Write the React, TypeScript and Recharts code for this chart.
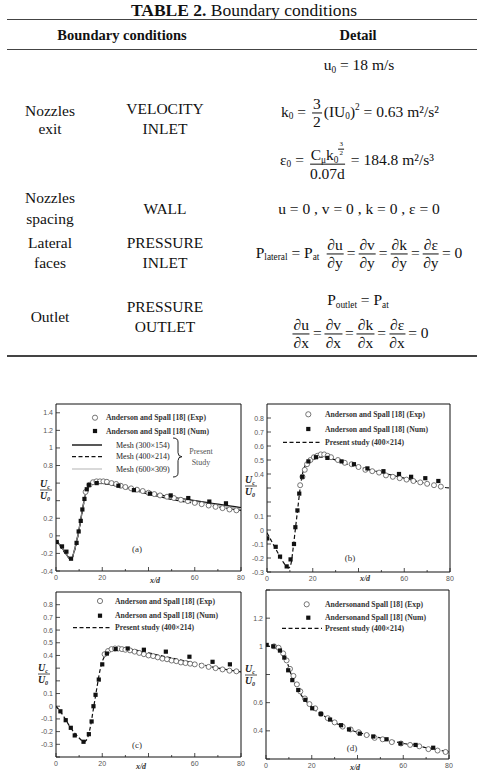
import React from 'react';
import { ComposedChart, Line, Scatter, XAxis, YAxis, ReferenceArea, Legend } from 'recharts';

// ---- (a) centreline velocity, mesh independence
const aLineX = [0, 1, 2, 3, 4, 5, 6, 6.5, 7, 8, 9, 10, 11, 12, 13, 14, 15, 16, 18, 20, 25, 30, 35, 40, 45, 50, 55, 60, 65, 70, 75, 80];
const aMesh300 = [-0.05, -0.08, -0.12, -0.15, -0.19, -0.23, -0.26, -0.265, -0.25, -0.16, -0.05, 0.08, 0.23, 0.38, 0.5, 0.56, 0.59, 0.6, 0.605, 0.6, 0.58, 0.55, 0.52, 0.49, 0.465, 0.44, 0.42, 0.4, 0.38, 0.36, 0.34, 0.32];
const aMesh400 = [-0.05, -0.08, -0.12, -0.16, -0.2, -0.23, -0.26, -0.265, -0.25, -0.17, -0.06, 0.07, 0.22, 0.37, 0.49, 0.56, 0.59, 0.6, 0.6, 0.595, 0.575, 0.54, 0.51, 0.475, 0.445, 0.415, 0.39, 0.37, 0.35, 0.33, 0.31, 0.29];
const aMesh600 = [-0.05, -0.08, -0.12, -0.15, -0.19, -0.23, -0.26, -0.265, -0.25, -0.16, -0.05, 0.08, 0.23, 0.38, 0.5, 0.56, 0.59, 0.6, 0.6, 0.6, 0.58, 0.545, 0.515, 0.485, 0.455, 0.43, 0.41, 0.39, 0.37, 0.35, 0.33, 0.31];
const aNumX = [0.3, 2.6, 4.5, 6.5, 8.9, 9.8, 10.7, 11.4, 12.3, 13.3, 14.2, 17.6, 27, 33.7, 40.6, 49.6, 57.2, 66.3, 73.5];
const aNumY = [-0.07, -0.12, -0.18, -0.26, -0.08, 0.05, 0.17, 0.3, 0.42, 0.53, 0.58, 0.6, 0.57, 0.52, 0.48, 0.46, 0.43, 0.39, 0.37];
const aExpX = [12.8, 14.5, 16, 17.5, 19, 20.5, 22, 24, 26, 28, 30, 32.5, 35, 37.5, 40, 42.5, 45, 48, 51, 54, 57, 60, 63, 66, 69, 72, 75, 78];
const aExpY = [0.5, 0.58, 0.61, 0.62, 0.62, 0.62, 0.615, 0.6, 0.59, 0.57, 0.555, 0.54, 0.525, 0.51, 0.49, 0.475, 0.46, 0.445, 0.43, 0.41, 0.395, 0.375, 0.36, 0.345, 0.33, 0.315, 0.3, 0.29];

// ---- (b)
const bLineX = [0, 2, 4, 6, 8, 9.5, 10.5, 11.5, 12.5, 13.5, 14.5, 15.5, 17, 19, 22, 25, 30, 35, 40, 45, 50, 55, 60, 65, 70, 75, 80];
const bPresent = [-0.02, -0.08, -0.14, -0.2, -0.25, -0.27, -0.24, -0.12, 0.02, 0.16, 0.3, 0.4, 0.47, 0.5, 0.52, 0.52, 0.5, 0.47, 0.45, 0.43, 0.41, 0.39, 0.37, 0.35, 0.33, 0.31, 0.3];
const bNumX = [0.1, 3.8, 5.7, 8.6, 10.3, 11.8, 12.4, 13.3, 14.1, 15.4, 18.1, 21.4, 26.4, 32.6, 38, 43.9, 50.9, 57.7, 63, 69.2, 74.9];
const bNumY = [-0.06, -0.12, -0.19, -0.26, -0.21, -0.1, 0.02, 0.14, 0.26, 0.38, 0.49, 0.52, 0.515, 0.49, 0.47, 0.44, 0.42, 0.4, 0.38, 0.37, 0.35];
const bExpX = [14.5, 15.5, 16.5, 17.5, 19, 20.5, 22, 23.5, 25, 26.5, 28, 31, 34, 37, 40, 43, 46, 49, 52, 55, 58, 61, 64, 67, 70, 73, 76];
const bExpY = [0.32, 0.38, 0.43, 0.47, 0.5, 0.52, 0.53, 0.54, 0.54, 0.53, 0.52, 0.5, 0.48, 0.47, 0.45, 0.43, 0.42, 0.41, 0.39, 0.38, 0.37, 0.36, 0.35, 0.34, 0.33, 0.32, 0.31];

// ---- (c)
const cLineX = [0, 2, 4, 6, 8, 10, 12, 13, 14, 15, 16, 17, 18, 19, 20, 22, 24, 26, 28, 30, 35, 40, 45, 50, 55, 60, 65, 70, 75, 80];
const cPresent = [0, -0.045, -0.1, -0.16, -0.21, -0.25, -0.28, -0.27, -0.23, -0.15, -0.04, 0.07, 0.18, 0.28, 0.35, 0.42, 0.45, 0.46, 0.46, 0.455, 0.44, 0.42, 0.4, 0.38, 0.36, 0.34, 0.32, 0.3, 0.285, 0.27];
const cNumX = [1.9, 4.2, 6.4, 8.1, 11.9, 14.2, 15.4, 16.2, 17.1, 18.5, 20, 22, 25.8, 31, 38, 47.5, 57.7, 67.7, 75.2];
const cNumY = [-0.04, -0.11, -0.17, -0.23, -0.28, -0.22, -0.12, 0, 0.09, 0.21, 0.33, 0.415, 0.45, 0.455, 0.445, 0.43, 0.39, 0.35, 0.33];
const cExpX = [21, 22.5, 24, 25.5, 27, 28.5, 30, 32, 34, 36, 38, 40, 42, 44, 46, 48, 50, 52, 54, 56, 58, 60, 63, 66, 69, 72, 75, 78];
const cExpY = [0.41, 0.435, 0.45, 0.455, 0.455, 0.45, 0.445, 0.44, 0.43, 0.42, 0.41, 0.4, 0.395, 0.385, 0.375, 0.37, 0.36, 0.355, 0.345, 0.34, 0.335, 0.33, 0.32, 0.31, 0.3, 0.29, 0.28, 0.275];

// ---- (d)
const dLineX = [0, 2, 4, 6, 7, 8, 9, 10, 11, 12, 13, 14, 16, 18, 20, 22, 25, 30, 35, 40, 45, 50, 55, 60, 65, 70, 75, 80];
const dPresent = [1.0, 1.0, 1.0, 0.99, 0.97, 0.94, 0.9, 0.85, 0.8, 0.76, 0.72, 0.69, 0.64, 0.6, 0.57, 0.54, 0.51, 0.46, 0.42, 0.39, 0.37, 0.35, 0.33, 0.31, 0.3, 0.28, 0.265, 0.25];
const dNumX = [0.3, 3.2, 6.1, 8, 9.7, 11.5, 14.1, 17.2, 20.2, 24, 28, 32.8, 36.3, 41, 46.9, 52.7, 58.8, 65.4, 73.1];
const dNumY = [1.01, 1.0, 0.97, 0.92, 0.83, 0.76, 0.69, 0.62, 0.56, 0.52, 0.48, 0.44, 0.41, 0.38, 0.36, 0.34, 0.31, 0.3, 0.28];
const dExpX = [3.5, 5.5, 7.5, 9, 10.5, 12, 13.5, 15, 17, 19, 21.5, 24, 27, 30, 33.5, 37, 40.5, 44, 47.5, 51, 55, 59, 63, 67, 71, 75, 78.5];
const dExpY = [1.0, 0.99, 0.95, 0.9, 0.84, 0.79, 0.73, 0.68, 0.63, 0.59, 0.56, 0.52, 0.49, 0.46, 0.43, 0.41, 0.39, 0.37, 0.35, 0.34, 0.32, 0.31, 0.3, 0.29, 0.27, 0.26, 0.25];

// ---- ticks
const xTicks = [0, 10, 20, 30, 40, 50, 60, 70, 80];
const aYTicks = [-0.4, -0.2, 0, 0.2, 0.4, 0.6, 0.8, 1, 1.2, 1.4];
const bYTicks = [-0.3, -0.2, -0.1, 0, 0.1, 0.2, 0.3, 0.4, 0.5, 0.6, 0.7, 0.8];
const cYTicks = [-0.4, -0.3, -0.2, -0.1, 0, 0.1, 0.2, 0.3, 0.4, 0.5, 0.6, 0.7, 0.8];
const dYTicks = [0.2, 0.4, 0.6, 0.8, 1, 1.2, 1.4];

const pts = (xs: number[], ys: number[]) => xs.map((x, i) => ({ x, y: ys[i] }));

const SERIF = '"Liberation Serif", "Times New Roman", serif';
const SANS = '"Liberation Sans", Arial, sans-serif';

const OpenCircle = (props: any) => (
  <circle cx={props.cx} cy={props.cy} r={2.5} fill="#fff" stroke="#555" strokeWidth={0.8} />
);
const BlackSquare = (props: any) => (
  <rect x={props.cx - 2.1} y={props.cy - 2.1} width={4.2} height={4.2} fill="#111" />
);

interface Box { l: number; t: number; r: number; b: number }
interface SeriesLine { data: { x: number; y: number }[]; stroke: string; width: number; dash?: string; name: string }
interface PanelProps {
  left: number; top: number; w: number; h: number;
  box: Box;
  yDomain: [number, number];
  yTicks: number[];
  yHidden: number[];
  lines: SeriesLine[];
  exp: { x: number; y: number }[];
  num: { x: number; y: number }[];
  overlay: React.ReactNode;
}

function Panel(p: PanelProps) {
  const xTick = (props: any) => {
    const { x, payload } = props;
    const v = payload.value as number;
    const major = v % 20 === 0;
    return (
      <g>
        <line x1={x} x2={x} y1={p.box.b} y2={p.box.b - (major ? 4 : 2)} stroke="#222" strokeWidth={0.8} />
        {major && v !== 40 && (
          <text x={x} y={p.box.b + 9} textAnchor="middle" fontSize={7} fontFamily={SANS} fill="#555">{v}</text>
        )}
      </g>
    );
  };
  const yTick = (props: any) => {
    const { y, payload } = props;
    const v = payload.value as number;
    return (
      <g>
        <line x1={p.box.l} x2={p.box.l + 4} y1={y} y2={y} stroke="#222" strokeWidth={0.8} />
        {!p.yHidden.includes(v) && (
          <text x={p.box.l - 3} y={y + 2.5} textAnchor="end" fontSize={7} fontFamily={SANS} fill="#555">{String(v)}</text>
        )}
      </g>
    );
  };
  return (
    <div style={{ position: 'absolute', left: p.left, top: p.top }}>
      <ComposedChart
        width={p.w}
        height={p.h}
        margin={{ top: p.box.t, right: p.w - p.box.r, left: p.box.l - 20, bottom: p.h - p.box.b - 10 }}
      >
        <XAxis type="number" dataKey="x" domain={[0, 80]} ticks={xTicks} tick={xTick} tickLine={false} axisLine={false} height={10} allowDataOverflow interval={0} />
        <YAxis type="number" domain={p.yDomain} ticks={p.yTicks} tick={yTick} tickLine={false} axisLine={false} width={20} allowDataOverflow interval={0} />
        <ReferenceArea x1={0} x2={80} y1={p.yDomain[0]} y2={p.yDomain[1]} fill="none" fillOpacity={0} stroke="#111" strokeWidth={1} />
        {p.lines.map((l) => (
          <Line
            key={l.name}
            data={l.data}
            dataKey="y"
            type="monotone"
            stroke={l.stroke}
            strokeWidth={l.width}
            strokeDasharray={l.dash}
            dot={false}
            activeDot={false}
            isAnimationActive={false}
          />
        ))}
        <Scatter data={p.exp} dataKey="y" shape={OpenCircle} isAnimationActive={false} />
        <Scatter data={p.num} dataKey="y" shape={BlackSquare} isAnimationActive={false} />
        <Legend
          layout="horizontal"
          verticalAlign="middle"
          align="center"
          wrapperStyle={{ position: 'absolute', left: 0, top: 0, width: p.w, height: p.h, pointerEvents: 'none' }}
          content={() => (
            <svg width={p.w} height={p.h} style={{ display: 'block' }}>{p.overlay}</svg>
          )}
        />
      </ComposedChart>
    </div>
  );
}

const lg = { fontFamily: SERIF, fontSize: 7.7, fontWeight: 700, fill: '#333' } as const;

const FracLabel = ({ cx, y }: { cx: number; y: number }) => (
  <g fontFamily={SERIF} fontStyle="italic" fontWeight={700} fill="#222">
    <text x={cx - 1} y={y} textAnchor="middle" fontSize={10}>U<tspan fontSize={6} dy={2}>c</tspan></text>
    <line x1={cx - 6} x2={cx + 6} y1={y + 3} y2={y + 3} stroke="#222" strokeWidth={0.8} />
    <text x={cx - 1} y={y + 12} textAnchor="middle" fontSize={10}>U<tspan fontSize={6} dy={2}>0</tspan></text>
  </g>
);

const XdLabel = ({ x, y }: { x: number; y: number }) => (
  <text x={x} y={y} textAnchor="middle" fontFamily={SERIF} fontStyle="italic" fontWeight={700} fontSize={8} fill="#333">x/d</text>
);

const PanelTag = ({ x, y, t }: { x: number; y: number; t: string }) => (
  <text x={x} y={y} textAnchor="middle" fontFamily={SERIF} fontSize={9} fill="#333">{t}</text>
);

const overlayA = (
  <g>
    <circle cx={95} cy={22.7} r={2.6} fill="#fff" stroke="#555" strokeWidth={0.8} />
    <text x={106} y={25.4} {...lg}>Anderson and Spall [18] (Exp)</text>
    <rect x={92.9} y={33.9} width={4.2} height={4.2} fill="#111" />
    <text x={106} y={38.6} {...lg}>Anderson and Spall [18] (Num)</text>
    <line x1={72} x2={102} y1={50} y2={50} stroke="#111" strokeWidth={1.4} />
    <text x={116} y={52.7} {...lg} fontWeight={400} fontSize={8} fill="#222">Mesh (300×154)</text>
    <line x1={72} x2={102} y1={61.7} y2={61.7} stroke="#111" strokeWidth={1.2} strokeDasharray="4 2.5" />
    <text x={116} y={64.4} {...lg} fontWeight={400} fontSize={8} fill="#222">Mesh (400×214)</text>
    <line x1={72} x2={102} y1={74} y2={74} stroke="#aaa" strokeWidth={0.9} />
    <text x={116} y={76.7} {...lg} fontWeight={400} fontSize={8} fill="#222">Mesh (600×309)</text>
    <path d="M173,43 Q178,43 178,47 L178,57.7 Q178,61.7 182,61.7 Q178,61.7 178,65.7 L178,78 Q178,82 173,82" fill="none" stroke="#222" strokeWidth={1} />
    <text x={201} y={59} textAnchor="middle" fontFamily={SERIF} fontSize={8} fill="#555">Present</text>
    <text x={201} y={70} textAnchor="middle" fontFamily={SERIF} fontSize={8} fill="#555">Study</text>
    <PanelTag x={137} y={157} t="(a)" />
    <FracLabel cx={46} y={92} />
    <XdLabel x={155} y={188} />
  </g>
);

const overlayB = (
  <g>
    <circle cx={68.3} cy={19.3} r={2.6} fill="#fff" stroke="#555" strokeWidth={0.8} />
    <text x={85} y={22} {...lg}>Anderson and Spall [18] (Exp)</text>
    <rect x={66.2} y={31.9} width={4.2} height={4.2} fill="#111" />
    <text x={85} y={36.7} {...lg}>Anderson and Spall [18] (Num)</text>
    <line x1={43} x2={82} y1={47.3} y2={47.3} stroke="#111" strokeWidth={1.2} strokeDasharray="4 2.5" />
    <text x={85} y={50} {...lg}>Present study (400×214)</text>
    <PanelTag x={110} y={166} t="(b)" />
    <FracLabel cx={11} y={88} />
    <XdLabel x={125} y={186} />
  </g>
);

const overlayC = (
  <g>
    <circle cx={100} cy={16} r={2.6} fill="#fff" stroke="#555" strokeWidth={0.8} />
    <text x={115} y={18.7} {...lg}>Anderson and Spall [18] (Exp)</text>
    <rect x={97.9} y={28.6} width={4.2} height={4.2} fill="#111" />
    <text x={115} y={33.3} {...lg}>Anderson and Spall [18] (Num)</text>
    <line x1={73} x2={112} y1={42.7} y2={42.7} stroke="#111" strokeWidth={1.2} strokeDasharray="4 2.5" />
    <text x={115} y={45.4} {...lg}>Present study (400×214)</text>
    <PanelTag x={137} y={163} t="(c)" />
    <FracLabel cx={44} y={86} />
    <XdLabel x={141} y={184} />
  </g>
);

const overlayD = (
  <g>
    <circle cx={66.7} cy={19.3} r={2.6} fill="#fff" stroke="#555" strokeWidth={0.8} />
    <text x={85} y={22} {...lg}>Andersonand Spall [18] (Exp)</text>
    <rect x={66.2} y={30.6} width={4.2} height={4.2} fill="#111" />
    <text x={85} y={35.4} {...lg}>Andersonand Spall [18] (Num)</text>
    <line x1={42} x2={82} y1={43.3} y2={43.3} stroke="#111" strokeWidth={1.2} strokeDasharray="4 2.5" />
    <text x={85} y={46} {...lg}>Present study (400×214)</text>
    <PanelTag x={112} y={166} t="(d)" />
    <FracLabel cx={11} y={87} />
    <XdLabel x={115} y={185} />
  </g>
);

// ---- table helpers
const Txt = ({ x, y, children, b, size = 15.5 }: { x: number; y: number; children: React.ReactNode; b?: boolean; size?: number }) => (
  <div
    style={{
      position: 'absolute', left: x, top: y, transform: 'translate(-50%,-50%)',
      whiteSpace: 'nowrap', fontSize: size, fontWeight: b ? 700 : 400, lineHeight: 1,
    }}
  >
    {children}
  </div>
);
const Sub = ({ children }: { children: React.ReactNode }) => (
  <span style={{ fontSize: '0.6em', verticalAlign: '-0.3em', lineHeight: 0 }}>{children}</span>
);
const Sup = ({ children }: { children: React.ReactNode }) => (
  <span style={{ fontSize: '0.6em', verticalAlign: '0.7em', lineHeight: 0 }}>{children}</span>
);
const Frac = ({ n, d, gap = 2 }: { n: React.ReactNode; d: React.ReactNode; gap?: number }) => (
  <span
    style={{
      display: 'inline-flex', flexDirection: 'column', alignItems: 'center',
      verticalAlign: 'middle', margin: `0 ${gap}px`, lineHeight: 1.1,
    }}
  >
    <span style={{ borderBottom: '1px solid #111', padding: '0 1px' }}>{n}</span>
    <span>{d}</span>
  </span>
);
const Rule = ({ y, h = 1.5 }: { y: number; h?: number }) => (
  <div style={{ position: 'absolute', left: 7, top: y, width: 470, height: h, background: '#444' }} />
);
const dd = (a: string, b: string) => <Frac n={<>∂{a}</>} d={<>∂{b}</>} gap={3} />;

function BoundaryTable() {
  return (
    <>
      <Txt x={244} y={11} size={17.5}><b>TABLE 2.</b> Boundary conditions</Txt>
      <Rule y={18.5} />
      <Txt x={122} y={35} b size={14.5}>Boundary conditions</Txt>
      <Txt x={358} y={35} b size={14.5}>Detail</Txt>
      <Rule y={48.5} />

      <Txt x={359} y={65}>u<Sub>0</Sub> = 18 m/s</Txt>
      <Txt x={50} y={111}>Nozzles</Txt>
      <Txt x={50} y={129}>exit</Txt>
      <Txt x={165} y={109}>VELOCITY</Txt>
      <Txt x={165} y={129}>INLET</Txt>
      <Txt x={360} y={113}>
        k<Sub>0</Sub> = <Frac n="3" d="2" />(IU<Sub>0</Sub>)<Sup>2</Sup> = 0.63 m²/s²
      </Txt>
      <Txt x={357} y={161}>
        ε<Sub>0</Sub> ={' '}
        <Frac
          n={<>C<Sub>μ</Sub>k<Sub>0</Sub><span style={{ display: 'inline-block', fontSize: 7, verticalAlign: '1.4em' }}><Frac n="3" d="2" gap={0} /></span></>}
          d="0.07d"
        />
        {' '}= 184.8 m²/s³
      </Txt>

      <Txt x={50} y={198}>Nozzles</Txt>
      <Txt x={50} y={219}>spacing</Txt>
      <Txt x={165} y={209}>WALL</Txt>
      <Txt x={359} y={209}>u = 0 , v = 0 , k = 0 , ε = 0</Txt>

      <Txt x={50} y={243}>Lateral</Txt>
      <Txt x={50} y={263}>faces</Txt>
      <Txt x={165} y={243}>PRESSURE</Txt>
      <Txt x={165} y={263}>INLET</Txt>
      <Txt x={359} y={254}>
        P<Sub>lateral</Sub> = P<Sub>at</Sub>{' '}{dd('u', 'y')}={dd('v', 'y')}={dd('k', 'y')}={dd('ε', 'y')}= 0
      </Txt>

      <Txt x={358} y={300}>P<Sub>outlet</Sub> = P<Sub>at</Sub></Txt>
      <Txt x={50} y={317}>Outlet</Txt>
      <Txt x={165} y={307}>PRESSURE</Txt>
      <Txt x={165} y={327}>OUTLET</Txt>
      <Txt x={359} y={334}>
        {dd('u', 'x')}={dd('v', 'x')}={dd('k', 'x')}={dd('ε', 'x')}= 0
      </Txt>
      <Rule y={354.5} h={2.2} />
    </>
  );
}

export default function App() {
  return (
    <div
      style={{
        position: 'relative', width: 477, height: 771, overflow: 'hidden',
        background: '#fff', fontFamily: SERIF, color: '#111',
      }}
    >
      <style>{'body{margin:0}'}</style>
      <BoundaryTable />
      <Panel
        left={0} top={395} w={250} h={195}
        box={{ l: 56, t: 9, r: 241, b: 176 }}
        yDomain={[-0.4, 1.5]} yTicks={aYTicks} yHidden={[0.4, 0.6]}
        lines={[
          { name: 'm300', data: pts(aLineX, aMesh300), stroke: '#111', width: 1.4 },
          { name: 'm400', data: pts(aLineX, aMesh400), stroke: '#111', width: 1.2, dash: '4 2.5' },
          { name: 'm600', data: pts(aLineX, aMesh600), stroke: '#aaa', width: 0.9 },
        ]}
        exp={pts(aExpX, aExpY)}
        num={pts(aNumX, aNumY)}
        overlay={overlayA}
      />
      <Panel
        left={240} top={395} w={237} h={195}
        box={{ l: 27, t: 9, r: 210, b: 177 }}
        yDomain={[-0.3, 0.9]} yTicks={bYTicks} yHidden={[0.2, 0.3]}
        lines={[{ name: 'present', data: pts(bLineX, bPresent), stroke: '#111', width: 1.2, dash: '4 2.5' }]}
        exp={pts(bExpX, bExpY)}
        num={pts(bNumX, bNumY)}
        overlay={overlayB}
      />
      <Panel
        left={0} top={585} w={250} h={186}
        box={{ l: 56, t: 7, r: 241, b: 172 }}
        yDomain={[-0.4, 0.9]} yTicks={cYTicks} yHidden={[-0.4, 0.2, 0.3]}
        lines={[{ name: 'present', data: pts(cLineX, cPresent), stroke: '#111', width: 1.2, dash: '4 2.5' }]}
        exp={pts(cExpX, cExpY)}
        num={pts(cNumX, cNumY)}
        overlay={overlayC}
      />
      <Panel
        left={240} top={585} w={237} h={186}
        box={{ l: 26, t: 5, r: 209, b: 174 }}
        yDomain={[0.2, 1.4]} yTicks={dYTicks} yHidden={[0.2, 0.8, 1.4]}
        lines={[{ name: 'present', data: pts(dLineX, dPresent), stroke: '#111', width: 1.2, dash: '4 2.5' }]}
        exp={pts(dExpX, dExpY)}
        num={pts(dNumX, dNumY)}
        overlay={overlayD}
      />
    </div>
  );
}
